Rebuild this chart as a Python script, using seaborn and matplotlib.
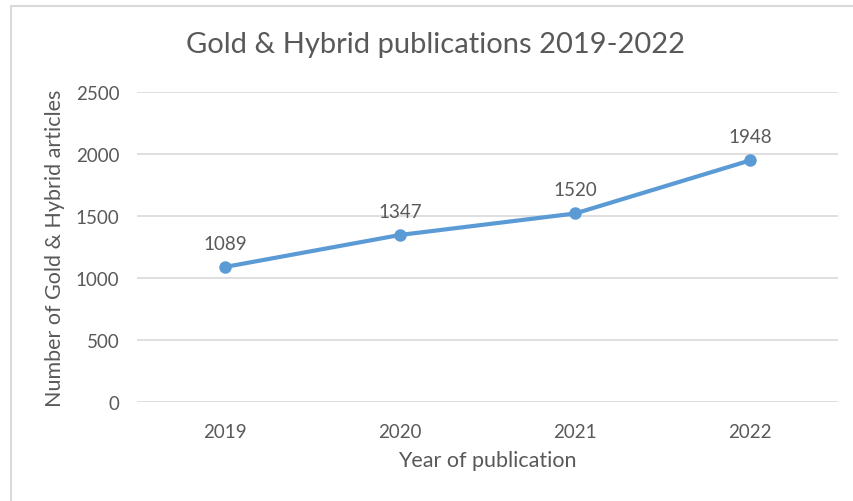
"""Gold & Hybrid publications 2019-2022"""
import matplotlib
matplotlib.use("Agg")
from matplotlib import pyplot as plt
from matplotlib.lines import Line2D
import pandas as pd
import seaborn as sns

years = ["2019", "2020", "2021", "2022"]
articles = [1089, 1347, 1520, 1948]
y_ticks = [0, 500, 1000, 1500, 2000, 2500]

sns.set_theme(style="white")
plt.rcParams["font.family"] = ["Lato", "DejaVu Sans"]

df = pd.DataFrame({"Year": years, "Articles": articles})

fig = plt.figure(figsize=(8.54, 5.02), dpi=100)
ax = fig.add_axes([0.161, 0.197, 0.82, 0.618])

line_color = "#5B9BD5"
text_color = "#595959"

sns.lineplot(data=df, x="Year", y="Articles", ax=ax, color=line_color,
             linewidth=3, marker="o", markersize=9, markeredgewidth=0,
             sort=False)

for i, v in enumerate(articles):
    ax.annotate(str(v), xy=(i, v), xytext=(0, 11), textcoords="offset points",
                ha="center", va="bottom", fontsize=13.5, color=text_color)

ax.set_xlim(-0.5, len(years) - 0.5)
ax.set_ylim(0, 2500)
ax.set_yticks(y_ticks)
ax.yaxis.grid(True, color="#D9D9D9", linewidth=1.2)
ax.set_axisbelow(True)
for s in ax.spines.values():
    s.set_visible(False)
ax.tick_params(axis="both", length=0, labelsize=13.5, colors=text_color)
ax.tick_params(axis="x", pad=15)
ax.tick_params(axis="y", pad=13)

ax.set_xlabel("Year of publication", fontsize=15.5, color=text_color, labelpad=7)
ax.set_ylabel("Number of Gold & Hybrid articles", fontsize=15.5, color=text_color,
              labelpad=8)
fig.text(0.51, 0.91, "Gold & Hybrid publications 2019-2022", ha="center",
         va="center", fontsize=21, color=text_color)

# partial chart border (top and left)
fig.add_artist(Line2D([0.013, 1.0], [0.986, 0.986], transform=fig.transFigure,
                      color="#D9D9D9", linewidth=1.5))
fig.add_artist(Line2D([0.013, 0.013], [0.0, 0.986], transform=fig.transFigure,
                      color="#D9D9D9", linewidth=1.5))

plt.savefig("out.png", dpi=100)
